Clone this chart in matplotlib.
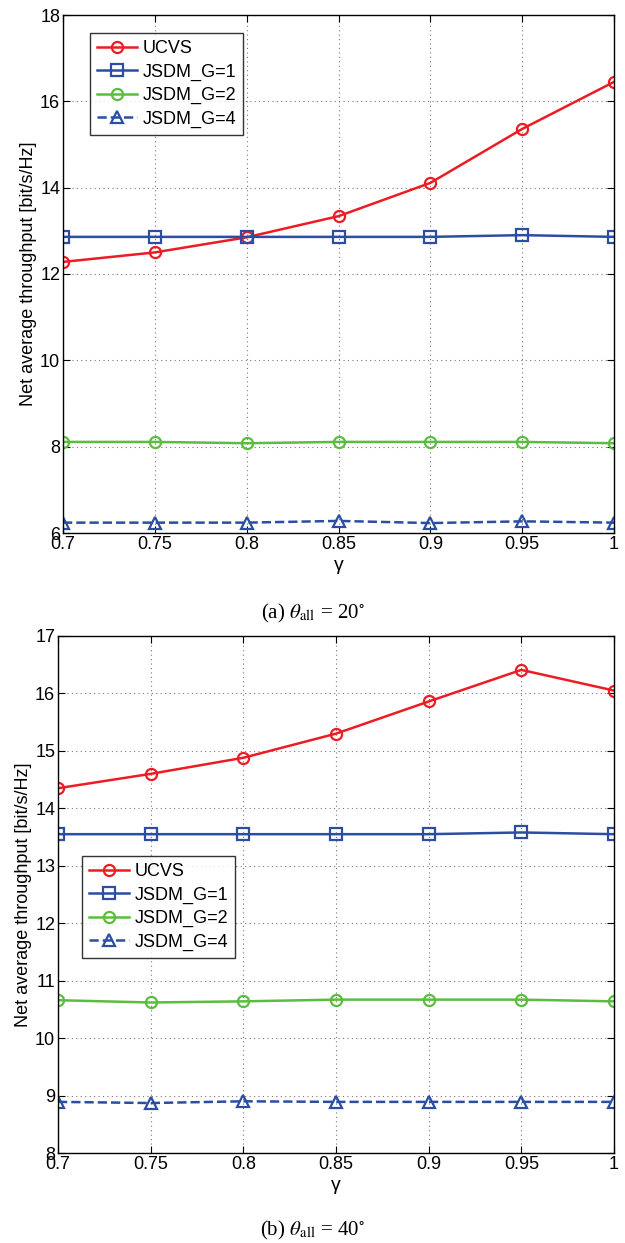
import matplotlib.pyplot as plt
from matplotlib.ticker import MultipleLocator

plt.rcParams['font.family'] = ['Liberation Sans', 'DejaVu Sans']
plt.rcParams['mathtext.fontset'] = 'stix'

gamma = [0.7, 0.75, 0.8, 0.85, 0.9, 0.95, 1.0]
xtick_labels = ['0.7', '0.75', '0.8', '0.85', '0.9', '0.95', '1']

# theta_all = 20 deg
ucvs_20 = [12.28, 12.50, 12.85, 13.34, 14.11, 15.36, 16.45]
g1_20 = [12.86, 12.86, 12.86, 12.86, 12.86, 12.90, 12.86]
g2_20 = [8.11, 8.11, 8.08, 8.11, 8.11, 8.11, 8.08]
g4_20 = [6.24, 6.24, 6.24, 6.28, 6.23, 6.27, 6.24]

# theta_all = 40 deg
ucvs_40 = [14.35, 14.60, 14.88, 15.30, 15.86, 16.41, 16.05]
g1_40 = [13.55, 13.55, 13.55, 13.55, 13.55, 13.58, 13.55]
g2_40 = [10.66, 10.62, 10.64, 10.67, 10.67, 10.67, 10.64]
g4_40 = [8.89, 8.87, 8.90, 8.89, 8.89, 8.89, 8.89]

RED = '#ec1c24'
BLUE = '#2b4ea3'
GREEN = '#5bbd3f'

W, H = 625, 1243
fig = plt.figure(figsize=(W / 100, H / 100), dpi=100)


def px_axes(left, top, right, bottom):
    return fig.add_axes([left / W, 1 - bottom / H, (right - left) / W, (bottom - top) / H])


def draw(ax, ucvs, g1, g2, g4, ylim, ystep, legend_box):
    kw = dict(linewidth=1.8, markersize=8, markerfacecolor='none', markeredgewidth=1.6)
    ax.plot(gamma, ucvs, '-o', color=RED, label='UCVS', **kw)
    ax.plot(gamma, g1, '-s', color=BLUE, label='JSDM_G=1', **kw)
    ax.plot(gamma, g2, '-o', color=GREEN, label='JSDM_G=2', **kw)
    ax.plot(gamma, g4, '--^', color=BLUE, label='JSDM_G=4', **kw)
    ax.set_xlim(0.7, 1.0)
    ax.set_ylim(*ylim)
    ax.set_xticks(gamma)
    ax.set_xticklabels(xtick_labels)
    ax.yaxis.set_major_locator(MultipleLocator(ystep))
    ax.grid(True, linestyle=(0, (1, 3)), color='#777777', linewidth=0.8)
    ax.tick_params(direction='in', top=True, right=True, labelsize=13, length=5, pad=2)
    for s in ax.spines.values():
        s.set_linewidth(1.0)
    ax.set_xlabel('γ', fontsize=14, labelpad=3)
    ax.set_ylabel('Net average throughput [bit/s/Hz]', fontsize=13, labelpad=2)
    leg = ax.legend(loc='upper left', bbox_to_anchor=legend_box, fontsize=13,
                    frameon=True, fancybox=False, edgecolor='black',
                    handlelength=2.2, handletextpad=0.3, labelspacing=0.35,
                    borderpad=0.4, borderaxespad=0)
    leg.get_frame().set_linewidth(1.0)


ax1 = px_axes(63, 15, 614, 533)
draw(ax1, ucvs_20, g1_20, g2_20, g4_20, (6, 18), 2, ((90 - 63) / 551, (533 - 33) / 518))
fig.text(0.5, 1 - 613 / H, r'(a) $\theta_{\rm all}$ = 20$^{\circ}$', ha='center', va='center',
         fontsize=15, family='Liberation Serif')

ax2 = px_axes(58, 636, 614, 1153)
draw(ax2, ucvs_40, g1_40, g2_40, g4_40, (8, 17), 1, ((82 - 58) / 556, (1153 - 856) / 517))
fig.text(0.5, 1 - 1230 / H, r'(b) $\theta_{\rm all}$ = 40$^{\circ}$', ha='center', va='center',
         fontsize=15, family='Liberation Serif')

fig.savefig('out.png', dpi=100)
